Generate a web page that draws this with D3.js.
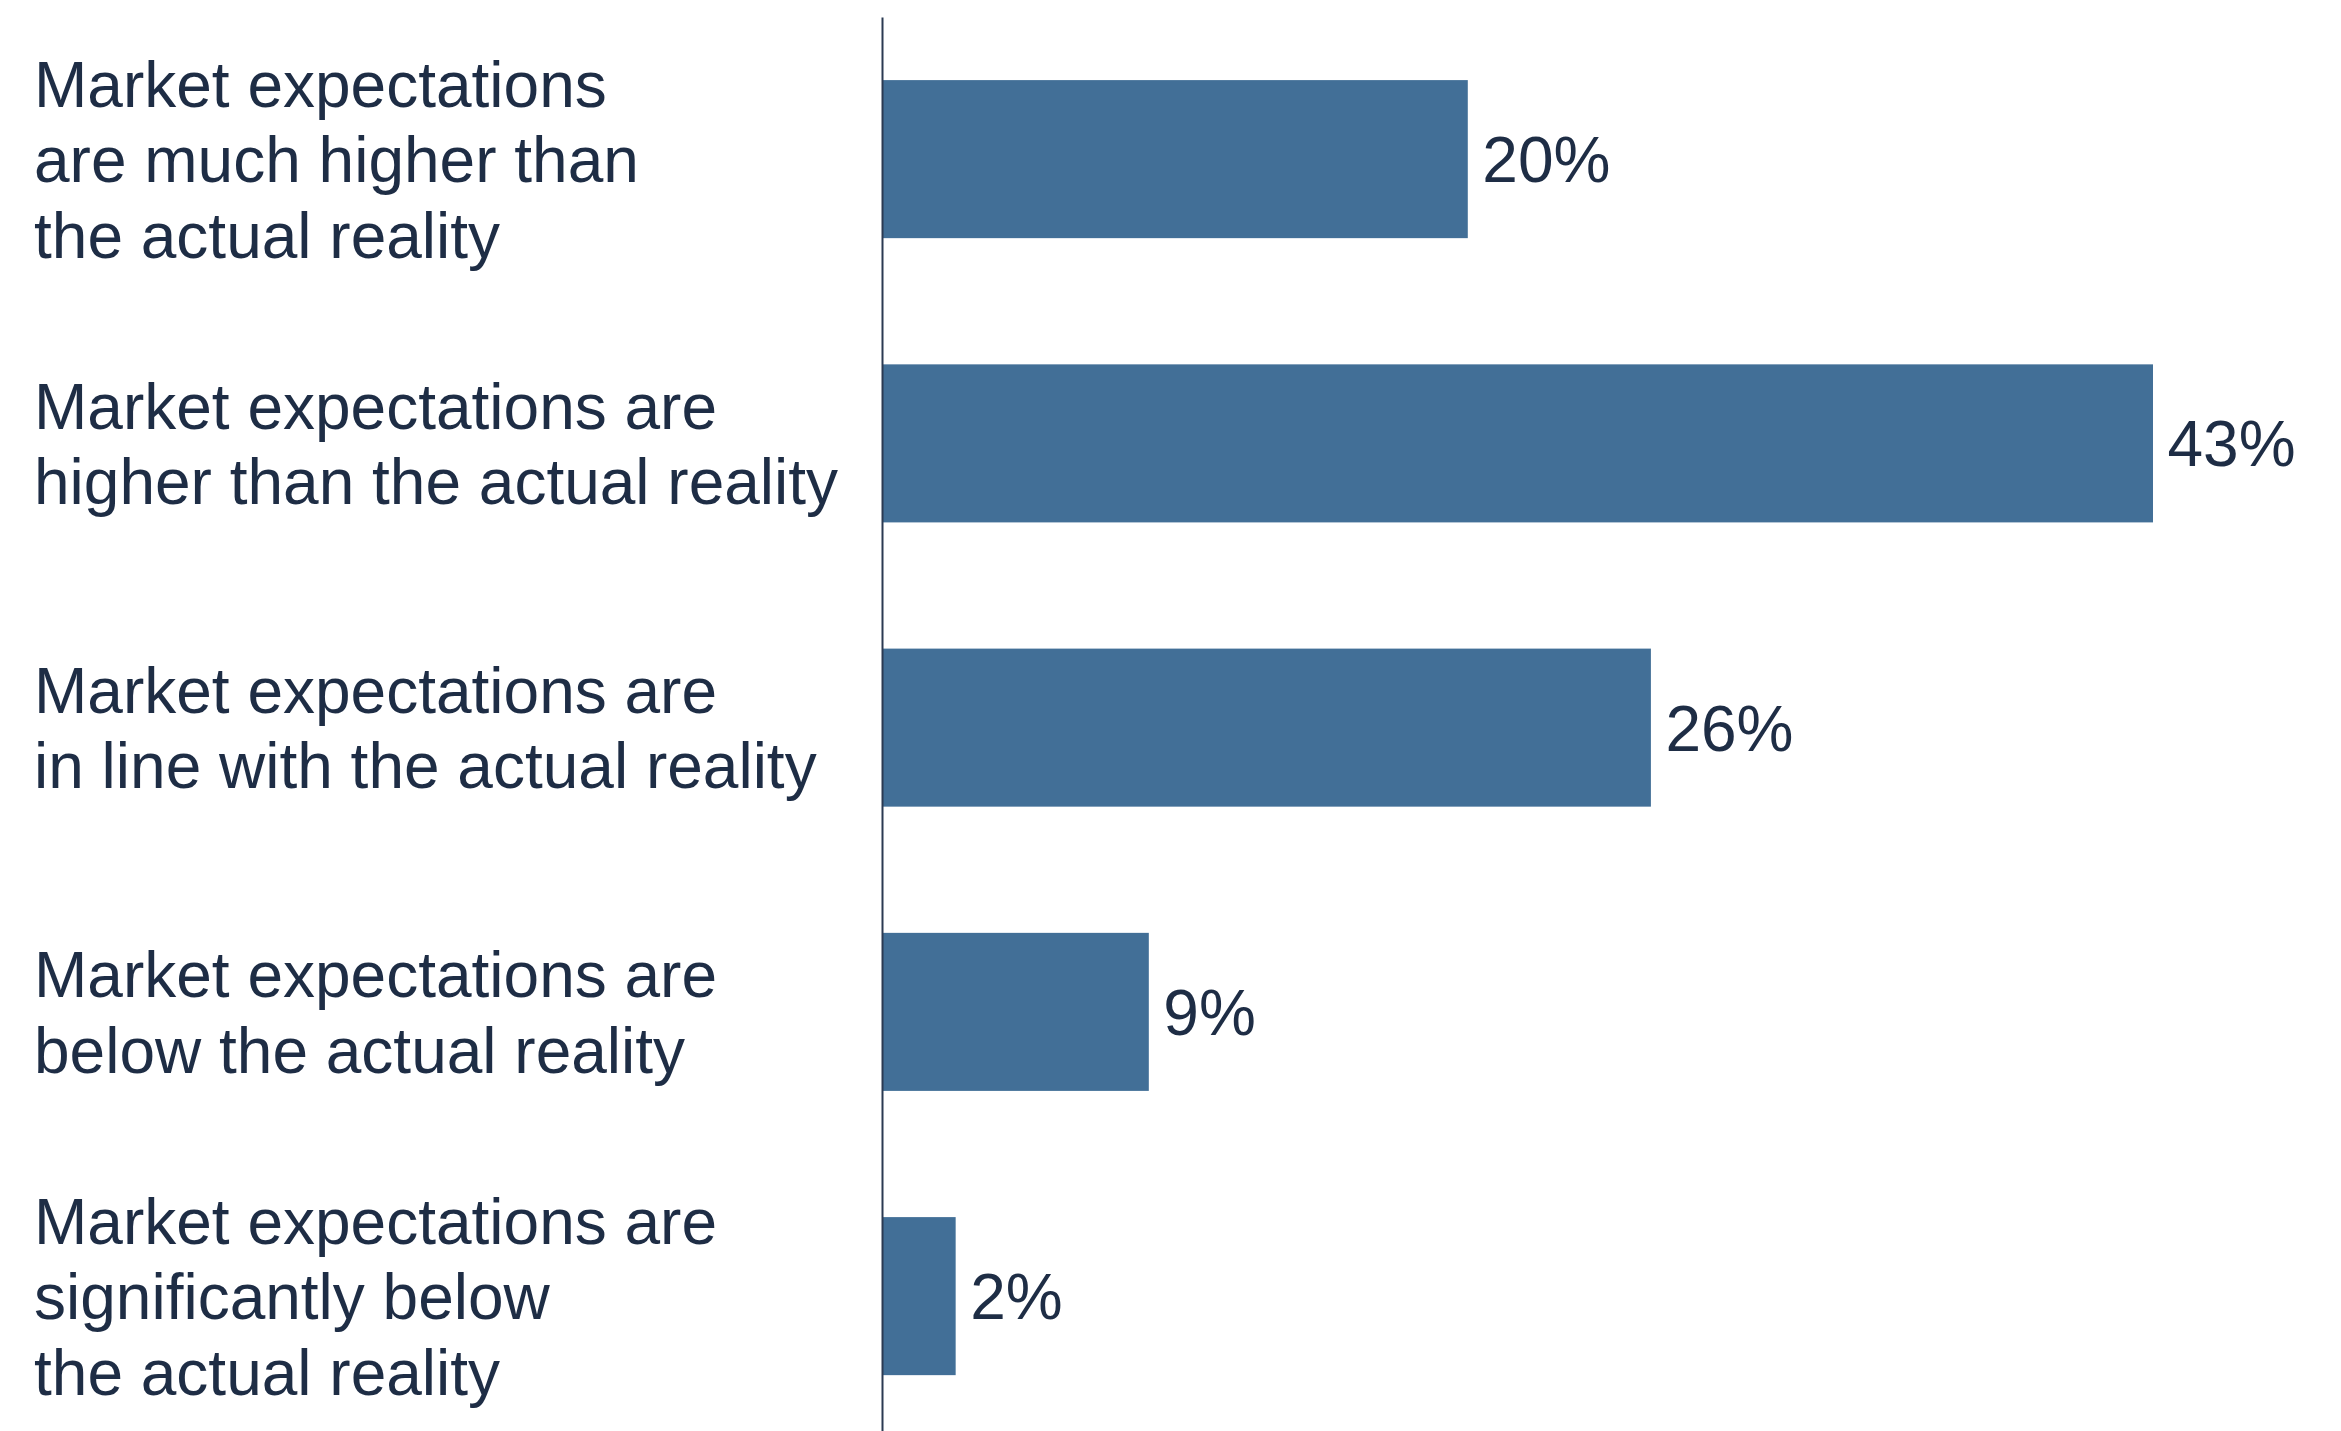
<!DOCTYPE html>
<html>
<head>
<meta charset="utf-8">
<script src="https://cdn.jsdelivr.net/npm/d3@7"></script>
<style>
  html, body { margin: 0; padding: 0; background: #ffffff; }
  svg { display: block; }
</style>
</head>
<body>
<svg id="chart" width="2341" height="1431"></svg>
<script>
// Data
const categories = [
  "Market expectations\nare much higher than\nthe actual reality",
  "Market expectations are\nhigher than the actual reality",
  "Market expectations are\nin line with the actual reality",
  "Market expectations are\nbelow the actual reality",
  "Market expectations are\nsignificantly below\nthe actual reality"
];
const values = [19.8, 43.0, 26.0, 9.0, 2.46];
const valueLabels = ["20%", "43%", "26%", "9%", "2%"];

const W = 2341, H = 1431;
const fontSize = 64;
const lineHeight = 75.5;
const textColor = "#1e2d45";
const barColor = "#426f97";
const axisColor = "#2b3a52";

const svg = d3.select("#chart");

const y = d3.scaleBand()
  .domain(categories)
  .range([17, 1438.25])
  .paddingInner(0.444)
  .paddingOuter(0.222);

const x = d3.scaleLinear()
  .domain([0, d3.max(values)])
  .range([883, 2153]);

// Bars
svg.append("g").selectAll("rect")
  .data(categories)
  .join("rect")
  .attr("x", x(0))
  .attr("y", d => y(d))
  .attr("width", (d, i) => x(values[i]) - x(0))
  .attr("height", y.bandwidth())
  .attr("fill", barColor);

// Axis line (domain only)
const axis = svg.append("g")
  .attr("transform", "translate(882,0)")
  .call(d3.axisLeft(y).tickSize(0).tickSizeOuter(0).tickFormat(""));
axis.select(".domain").attr("stroke", axisColor).attr("stroke-width", 2);
axis.selectAll(".tick").remove();

// Category labels
const capOff = fontSize * 0.358;
svg.append("g").selectAll("text")
  .data(categories)
  .join("text")
  .attr("font-family", "'Liberation Sans', Arial, Helvetica, sans-serif")
  .attr("font-size", fontSize)
  .attr("fill", textColor)
  .each(function(d) {
    const lines = d.split("\n");
    const c = y(d) + y.bandwidth() / 2;
    const first = c + capOff - (lines.length - 1) / 2 * lineHeight;
    d3.select(this).selectAll("tspan")
      .data(lines)
      .join("tspan")
      .attr("x", 34)
      .attr("y", (l, j) => first + j * lineHeight)
      .text(l => l);
  });

// Value labels
svg.append("g").selectAll("text")
  .data(categories)
  .join("text")
  .attr("font-family", "'Liberation Sans', Arial, Helvetica, sans-serif")
  .attr("font-size", fontSize)
  .attr("fill", textColor)
  .attr("x", (d, i) => x(values[i]) + 14.5)
  .attr("y", d => y(d) + y.bandwidth() / 2 + capOff)
  .text((d, i) => valueLabels[i]);
</script>
</body>
</html>
